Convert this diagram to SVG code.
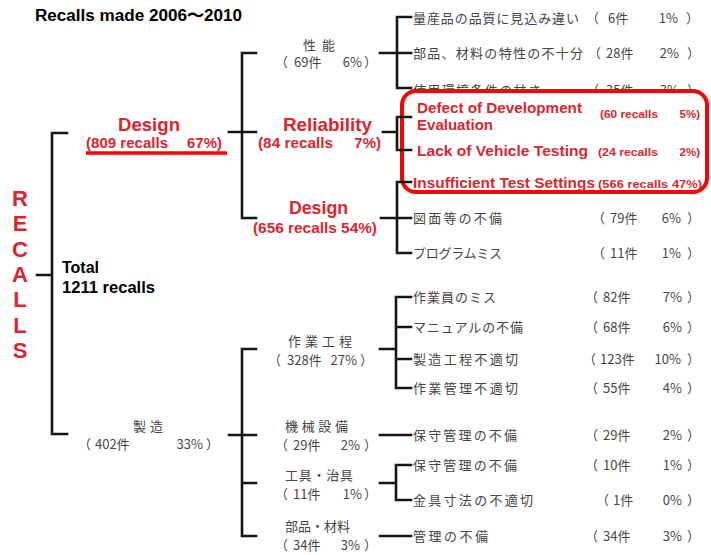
<svg xmlns="http://www.w3.org/2000/svg" width="711" height="555" viewBox="0 0 711 555">
<style>
.ln{stroke:#151515;stroke-width:2.6;fill:none;stroke-linecap:square}
.jp{font-family:"Noto Sans CJK JP","Noto Sans CJK SC",sans-serif;font-size:13px;fill:#454545}
.rd{font-family:"Liberation Sans",Arial,sans-serif;font-weight:bold;fill:#dc2530}
.bk{font-family:"Liberation Sans",Arial,sans-serif;font-weight:bold;fill:#000}
.e{text-anchor:end}
.m{text-anchor:middle}
</style>
<rect width="711" height="555" fill="#fff"/>
<text class="bk" x="35" y="21" font-size="16" textLength="207" lengthAdjust="spacingAndGlyphs">Recalls made 2006〜2010</text>

<g id="recalls" class="rd" font-size="22">
<text class="m" x="20" y="206">R</text>
<text class="m" x="20" y="231">E</text>
<text class="m" x="20" y="257">C</text>
<text class="m" x="20" y="282">A</text>
<text class="m" x="20" y="307">L</text>
<text class="m" x="20" y="333">L</text>
<text class="m" x="20" y="358">S</text>
</g>
<g id="total">
<text class="bk" x="62" y="273" font-size="16">Total</text>
<text class="bk" x="62" y="293" font-size="16" textLength="93" lengthAdjust="spacingAndGlyphs">1211 recalls</text>
</g>

<g id="design-top">
<text class="rd" x="118" y="131" font-size="19" textLength="62" lengthAdjust="spacingAndGlyphs">Design</text>
<text class="rd" x="86" y="148" font-size="15" textLength="82" lengthAdjust="spacingAndGlyphs">(809 recalls</text>
<text class="rd e" x="222" y="148" font-size="15">67%)</text>
<line x1="86" y1="153" x2="227" y2="153" stroke="#ff0000" stroke-width="3.5"/>
</g>

<g id="seino">
<text class="jp" x="303" y="50" textLength="32">性能</text>
<text class="jp" x="275" y="67">（</text><text class="jp" x="294" y="67">69件</text><text class="jp e" x="362" y="67">6%</text><text class="jp" x="364" y="67">）</text>
</g>
<g id="reliability">
<text class="rd" x="283" y="131" font-size="19" textLength="89" lengthAdjust="spacingAndGlyphs">Reliability</text>
<text class="rd" x="258" y="148" font-size="15" textLength="75" lengthAdjust="spacingAndGlyphs">(84 recalls</text>
<text class="rd e" x="381" y="148" font-size="15">7%)</text>
</g>
<g id="design-mid">
<text class="rd" x="289" y="214" font-size="18" textLength="59" lengthAdjust="spacingAndGlyphs">Design</text>
<text class="rd" x="253" y="233" font-size="15" textLength="124" lengthAdjust="spacingAndGlyphs">(656 recalls 54%)</text>
</g>

<g id="seizo">
<text class="jp" x="133" y="431" textLength="30">製造</text>
<text class="jp" x="78" y="449">（</text><text class="jp" x="95" y="449">402件</text><text class="jp e" x="203" y="449">33%</text><text class="jp" x="206" y="449">）</text>
</g>
<g id="sagyo">
<text class="jp" x="288" y="346" textLength="64">作業工程</text>
<text class="jp" x="268" y="365">（</text><text class="jp" x="287" y="365">328件</text><text class="jp e" x="357" y="365">27%</text><text class="jp" x="360" y="365">）</text>
</g>
<g id="kikai">
<text class="jp" x="285" y="431" textLength="63">機械設備</text>
<text class="jp" x="275" y="450">（</text><text class="jp" x="293" y="450">29件</text><text class="jp e" x="360" y="450">2%</text><text class="jp" x="364" y="450">）</text>
</g>
<g id="kogu">
<text class="jp" x="285" y="480" textLength="68">工具・治具</text>
<text class="jp" x="275" y="499">（</text><text class="jp" x="293" y="499">11件</text><text class="jp e" x="362" y="499">1%</text><text class="jp" x="364" y="499">）</text>
</g>
<g id="buhin">
<text class="jp" x="285" y="531" textLength="65">部品・材料</text>
<text class="jp" x="275" y="550">（</text><text class="jp" x="293" y="550">34件</text><text class="jp e" x="360" y="550">3%</text><text class="jp" x="364" y="550">）</text>
</g>

<g id="item-1">
<text class="jp" x="413" y="23" textLength="166">量産品の品質に見込み違い</text>
<text class="jp" x="586" y="23">（</text><text class="jp" x="608" y="23">6件</text><text class="jp e" x="678" y="23">1%</text><text class="jp" x="686" y="23">）</text>
</g>
<g id="item-2">
<text class="jp" x="413" y="58" textLength="170">部品、材料の特性の不十分</text>
<text class="jp" x="588" y="58">（</text><text class="jp" x="606" y="58">28件</text><text class="jp e" x="679" y="58">2%</text><text class="jp" x="687" y="58">）</text>
</g>
<g id="item-3">
<text class="jp" x="413" y="95" textLength="128">使用環境条件の甘さ</text>
<text class="jp" x="586" y="95">（</text><text class="jp" x="606" y="95">35件</text><text class="jp e" x="679" y="95">3%</text><text class="jp" x="687" y="95">）</text>
</g>

<g id="highlight">
<rect x="402" y="91" width="305" height="101" rx="14" fill="#fff" stroke="#ff0000" stroke-width="4"/>
</g>
<g id="item-defect">
<text class="rd" x="417" y="113" font-size="15" textLength="165" lengthAdjust="spacingAndGlyphs">Defect of Development</text>
<text class="rd" x="417" y="130" font-size="15" textLength="76" lengthAdjust="spacingAndGlyphs">Evaluation</text>
<text class="rd" x="600" y="118" font-size="11.5" textLength="58" lengthAdjust="spacingAndGlyphs">(60 recalls</text>
<text class="rd e" x="700" y="118" font-size="11.5">5%)</text>
</g>
<g id="item-lack">
<text class="rd" x="417" y="156" font-size="15" textLength="171" lengthAdjust="spacingAndGlyphs">Lack of Vehicle Testing</text>
<text class="rd" x="598" y="156" font-size="11.5" textLength="60" lengthAdjust="spacingAndGlyphs">(24 recalls</text>
<text class="rd e" x="700" y="156" font-size="11.5">2%)</text>
</g>
<g id="item-insufficient">
<text class="rd" x="413" y="188" font-size="15" textLength="182" lengthAdjust="spacingAndGlyphs">Insufficient Test Settings</text>
<text class="rd" x="598" y="188" font-size="11.5" textLength="104" lengthAdjust="spacingAndGlyphs">(566 recalls 47%)</text>
</g>

<g id="item-zumen">
<text class="jp" x="413" y="223" textLength="89">図面等の不備</text>
<text class="jp" x="592" y="223">（</text><text class="jp" x="610" y="223">79件</text><text class="jp e" x="681" y="223">6%</text><text class="jp" x="687" y="223">）</text>
</g>
<g id="item-program">
<text class="jp" x="413" y="258" textLength="89">プログラムミス</text>
<text class="jp" x="592" y="258">（</text><text class="jp" x="610" y="258">11件</text><text class="jp e" x="681" y="258">1%</text><text class="jp" x="687" y="258">）</text>
</g>
<g id="item-sagyoin">
<text class="jp" x="413" y="302" textLength="83">作業員のミス</text>
<text class="jp" x="585" y="302">（</text><text class="jp" x="603" y="302">82件</text><text class="jp e" x="682" y="302">7%</text><text class="jp" x="687" y="302">）</text>
</g>
<g id="item-manual">
<text class="jp" x="413" y="332" textLength="110">マニュアルの不備</text>
<text class="jp" x="585" y="332">（</text><text class="jp" x="603" y="332">68件</text><text class="jp e" x="682" y="332">6%</text><text class="jp" x="687" y="332">）</text>
</g>
<g id="item-seizokotei">
<text class="jp" x="413" y="364" textLength="105">製造工程不適切</text>
<text class="jp" x="583" y="364">（</text><text class="jp" x="600" y="364">123件</text><text class="jp e" x="681" y="364">10%</text><text class="jp" x="687" y="364">）</text>
</g>
<g id="item-kanri">
<text class="jp" x="413" y="393" textLength="105">作業管理不適切</text>
<text class="jp" x="585" y="393">（</text><text class="jp" x="603" y="393">55件</text><text class="jp e" x="682" y="393">4%</text><text class="jp" x="687" y="393">）</text>
</g>
<g id="item-hoshu1">
<text class="jp" x="413" y="440" textLength="104">保守管理の不備</text>
<text class="jp" x="585" y="440">（</text><text class="jp" x="603" y="440">29件</text><text class="jp e" x="682" y="440">2%</text><text class="jp" x="687" y="440">）</text>
</g>
<g id="item-hoshu2">
<text class="jp" x="413" y="470" textLength="104">保守管理の不備</text>
<text class="jp" x="585" y="470">（</text><text class="jp" x="603" y="470">10件</text><text class="jp e" x="682" y="470">1%</text><text class="jp" x="687" y="470">）</text>
</g>
<g id="item-kanagu">
<text class="jp" x="413" y="505" textLength="120">金具寸法の不適切</text>
<text class="jp" x="596" y="505">（</text><text class="jp" x="613" y="505">1件</text><text class="jp e" x="682" y="505">0%</text><text class="jp" x="687" y="505">）</text>
</g>
<g id="item-kanrifubi">
<text class="jp" x="413" y="541" textLength="75">管理の不備</text>
<text class="jp" x="585" y="541">（</text><text class="jp" x="603" y="541">34件</text><text class="jp e" x="682" y="541">3%</text><text class="jp" x="687" y="541">）</text>
</g>

<g id="connectors" class="ln">
<path d="M67,133 H52 V434 H67 M37,275 H52"/>
<path d="M256,53 H242 V218 H256 M229,132 H256"/>
<path d="M256,349 H242 V536 H256 M229,435 H256 M242,483 H256"/>
<path d="M380,53 H411 M411,17 H397 V88 H411"/>
<path d="M383,132 H397 M411,117 H397 V150 H411"/>
<path d="M381,218 H411 M411,182 H397 V253 H411"/>
<path d="M380,349 H396 M411,297 H396 V388 H411 M396,327 H411 M396,359 H411"/>
<path d="M380,435 H411"/>
<path d="M380,483 H396 M411,465 H396 V500 H411"/>
<path d="M380,536 H411"/>
</g>
</svg>
